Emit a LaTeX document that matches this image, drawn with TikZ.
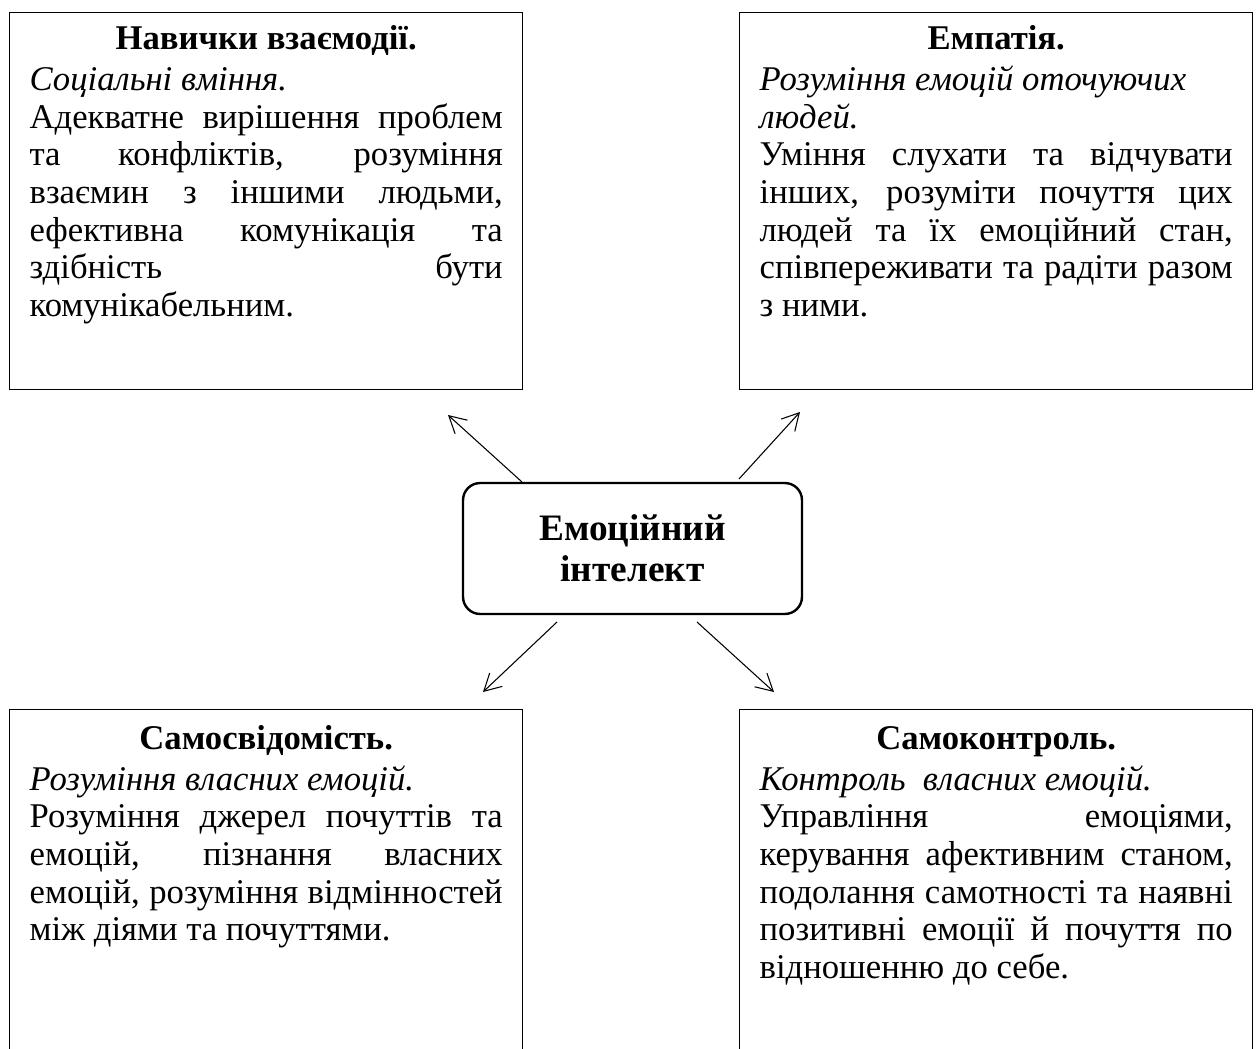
\documentclass[tikz,border=0pt]{standalone}
\usepackage{fontspec}
\setmainfont{Liberation Serif}
\usetikzlibrary{arrows.meta,positioning}
\pretolerance=10000
\tolerance=10000
\hbadness=10000
\hyphenpenalty=10000

\tikzset{
  panel/.style={draw, line width=0.5pt, anchor=north west, minimum width=192.4pt, inner sep=0pt},
  toppanel/.style={panel, minimum height=141.4pt},
  lowpanel/.style={panel, minimum height=150pt},
  paneltext/.style={anchor=north, inner sep=0pt, text width=177.4pt, align=justify,
    text height=10pt, font=\fontsize{13pt}{14.1pt}\selectfont},
  core/.style={draw, line width=0.9pt, rounded corners=6.4pt, minimum width=127.1pt,
    minimum height=49.1pt, align=center, font=\fontsize{14pt}{15.4pt}\selectfont\bfseries},
  link/.style={line width=0.4pt, -{Straight Barb[length=6.3pt,width=6.9pt]}}
}
\newcommand{\paneltitle}[1]{{\centering\bfseries #1\par}\vspace{1.2pt}}

\begin{document}
\begin{tikzpicture}[x=0.375pt, y=-0.375pt]
  \useasboundingbox (0,0) rectangle (1257,1048);
  \clip (0,0) rectangle (1257,1048);
  \node[toppanel] (social) at (9,12) {};
  \node[toppanel] (empathy) at (739,12) {};
  \node[lowpanel] (aware) at (9,709) {};
  \node[lowpanel] (control) at (739,709) {};
  \node[paneltext, below=4pt of social.north] (socialtext) {\paneltitle{Навички взаємодії.}
    {\itshape Соціальні вміння.\par}
    Адекватне вирішення проблем\linebreak та конфліктів, розуміння\linebreak
    взаємин з іншими людьми,\linebreak ефективна комунікація та\linebreak
    здібність бути\linebreak комунікабельним.};
  \node[paneltext, below=4pt of empathy.north] (empathytext) {\paneltitle{Емпатія.}
    {\itshape Розуміння емоцій оточуючих\\ людей.\par}
    Уміння слухати та відчувати\linebreak інших, розуміти почуття цих\linebreak
    людей та їх емоційний стан,\linebreak співпереживати та радіти разом\linebreak
    з ними.};
  \node[paneltext, below=5pt of aware.north] (awaretext) {\paneltitle{Самосвідомість.}
    {\itshape Розуміння власних емоцій.\par}
    Розуміння джерел почуттів та\linebreak емоцій, пізнання власних\linebreak
    емоцій, розуміння відмінностей\linebreak між діями та почуттями.};
  \node[paneltext, below=5pt of control.north] (controltext) {\paneltitle{Самоконтроль.}
    {\itshape Контроль\ \ власних емоцій.\par}
    Управління емоціями,\linebreak керування афективним станом,\linebreak
    подолання самотності та наявні\linebreak позитивні емоції й почуття по\linebreak
    відношенню до себе.};
  \node[core] (ei) at (632.5,548.5) {Емоційний\\інтелект};
  \coordinate (ei-nw) at (522,482);
  \coordinate (ei-ne) at (739,479);
  \coordinate (ei-sw) at (557,622);
  \coordinate (ei-se) at (697,622);
  \coordinate (social-in) at (448,415);
  \coordinate (empathy-in) at (800,412);
  \coordinate (aware-in) at (483,692);
  \coordinate (control-in) at (774,692);
  \draw[link] (ei-nw) -- (social-in);
  \draw[link] (ei-ne) -- (empathy-in);
  \draw[link] (ei-sw) -- (aware-in);
  \draw[link] (ei-se) -- (control-in);
\end{tikzpicture}
\end{document}
